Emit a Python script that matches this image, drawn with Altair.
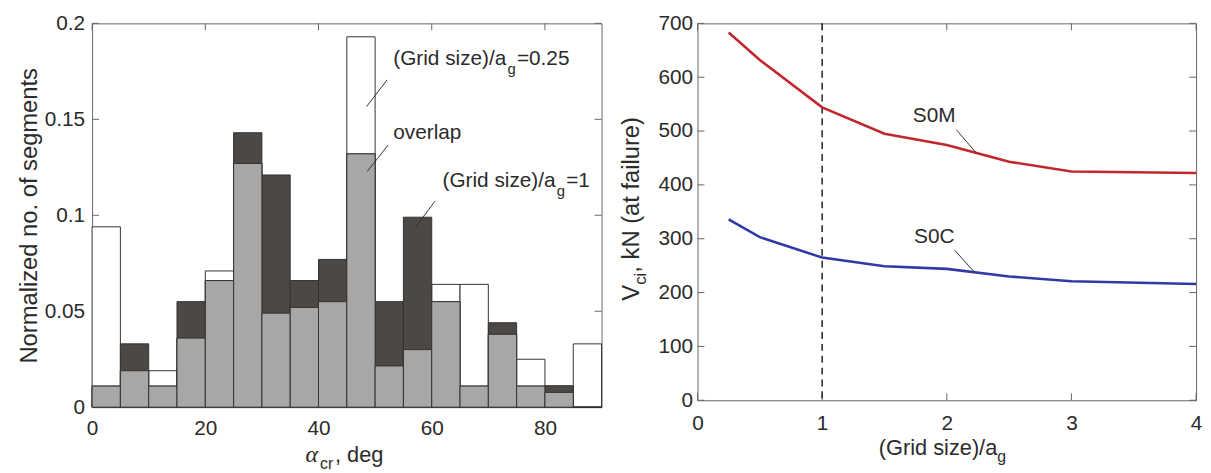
import altair as alt
import pandas as pd

# ---------------- Left panel: histogram of crack angles ----------------
BIN_START = [0, 5, 10, 15, 20, 25, 30, 35, 40, 45, 50, 55, 60, 65, 70, 75, 80, 85]
BIN_WIDTH = 5
FRAC_GRID_025 = [0.094, 0.019, 0.019, 0.036, 0.071, 0.127, 0.049, 0.052, 0.055,
                 0.193, 0.0215, 0.030, 0.064, 0.064, 0.038, 0.025, 0.0077, 0.033]
FRAC_GRID_1 = [0.011, 0.033, 0.011, 0.055, 0.066, 0.143, 0.121, 0.066, 0.077,
               0.132, 0.055, 0.099, 0.055, 0.011, 0.044, 0.011, 0.0112, 0.0]
LEFT_XTICKS = [0, 20, 40, 60, 80]
LEFT_YTICKS = [0, 0.05, 0.1, 0.15, 0.2]

# annotation anchors (data coords) and leader lines
ANN_L_TEXT = ["(Grid size)/a", "g", "=0.25", "overlap", "(Grid size)/a", "g", "=1"]
ANN_L_X = [53.2, 53.2, 61.9]
ANN_L_Y = [0.1814, 0.1426, 0.1177]
LEAD_L_X1 = [52.1, 52.3, 60.6]
LEAD_L_Y1 = [0.1705, 0.1366, 0.1074]
LEAD_L_X2 = [48.5, 48.6, 57.1]
LEAD_L_Y2 = [0.1567, 0.1228, 0.0937]

# ---------------- Right panel: V_ci vs grid size ----------------
GRID_RATIO = [0.25, 0.5, 1, 1.5, 2, 2.5, 3, 4]
V_S0M = [683, 632, 544, 495, 474, 443, 425, 422]
V_S0C = [336, 303, 265, 249, 244, 230, 221, 216]
RIGHT_XTICKS = [0, 1, 2, 3, 4]
RIGHT_YTICKS = [0, 100, 200, 300, 400, 500, 600, 700]
DASHED_AT = [1]
SERIES_NAMES = ["S0M", "S0C"]
ANN_R_X = [1.899, 1.90]
ANN_R_Y = [527, 303.4]
LEAD_R_X1 = [2.076, 2.063]
LEAD_R_Y1 = [502.6, 278.8]
LEAD_R_X2 = [2.235, 2.222]
LEAD_R_Y2 = [459.7, 237.8]

# titles (pieces for sub/subscripts)
LEFT_YTITLE = "Normalized no. of segments"
LEFT_XTITLE = ["α", "cr", ", deg"]
RIGHT_XTITLE = ["(Grid size)/a", "g"]
RIGHT_YTITLE = ["V", "ci", ", kN (at failure)"]

FONT = "Liberation Sans"
TXT = "#2b2b2b"
FRAME = "#666666"
C_WHITE = "#ffffff"
C_DARK = "#4b4846"
C_GRAY = "#a9a7a5"
C_EDGE = "#333333"
C_RED = "#c1272d"
C_BLUE = "#2e3aa6"

LW, LH = 515, 388
RW, RH = 504, 381
TICK = 7

# ---------- left panel ----------
hist = pd.DataFrame({
    "start": BIN_START,
    "end": [s + BIN_WIDTH for s in BIN_START],
    "g025": FRAC_GRID_025,
    "g1": FRAC_GRID_1,
})
hist["overlap"] = hist[["g025", "g1"]].min(axis=1)

lx_scale = alt.Scale(domain=[0, 90], nice=False, zero=False)
ly_scale = alt.Scale(domain=[0, 0.2], nice=False)

lx_axis = alt.Axis(values=LEFT_XTICKS, title=None, labelPadding=11, labelFlush=False)
ly_axis = alt.Axis(values=LEFT_YTICKS, format="~g", title=LEFT_YTITLE, titlePadding=3,
                   titleFontSize=24, labelPadding=7.5, labelFlush=False)


def LX(field):
    return alt.X(field, scale=lx_scale, axis=lx_axis)


def LY(field):
    return alt.Y(field, scale=ly_scale, axis=ly_axis)


def lbar(col, color):
    return alt.Chart(hist).mark_rect(fill=color, stroke=C_EDGE, strokeWidth=1).encode(
        x=LX("start:Q"), x2="end:Q", y=LY(f"{col}:Q"), y2=alt.datum(0),
    )


lyt = pd.DataFrame({"v": LEFT_YTICKS})
lxt = pd.DataFrame({"v": LEFT_XTICKS})
lticks = [
    alt.Chart(lyt).mark_rule(color=FRAME).encode(y=LY("v:Q"), x=alt.value(0), x2=alt.value(TICK)),
    alt.Chart(lyt).mark_rule(color=FRAME).encode(y=LY("v:Q"), x=alt.value(LW - TICK), x2=alt.value(LW)),
    alt.Chart(lxt).mark_rule(color=FRAME).encode(x=LX("v:Q"), y=alt.value(0), y2=alt.value(TICK)),
    alt.Chart(lxt).mark_rule(color=FRAME).encode(x=LX("v:Q"), y=alt.value(LH - TICK), y2=alt.value(LH)),
]

lead_l = pd.DataFrame({"x1": LEAD_L_X1, "y1": LEAD_L_Y1, "x2": LEAD_L_X2, "y2": LEAD_L_Y2})
lead_l_layer = alt.Chart(lead_l).mark_rule(color=C_EDGE, strokeWidth=1).encode(
    x=LX("x1:Q"), y=LY("y1:Q"), x2="x2:Q", y2="y2:Q")


def ann(text, xv, yv, X, Y, size=21, dx=0, dy=0, align="left", baseline="middle"):
    d = pd.DataFrame({"x": [xv], "y": [yv], "t": [text]})
    return alt.Chart(d).mark_text(font=FONT, fontSize=size, color=TXT, align=align,
                                  baseline=baseline, dx=dx, dy=dy).encode(
        x=X("x:Q"), y=Y("y:Q"), text="t:N")


ann_l = [
    ann(ANN_L_TEXT[0], ANN_L_X[0], ANN_L_Y[0], LX, LY),
    ann(ANN_L_TEXT[1], ANN_L_X[0], ANN_L_Y[0], LX, LY, size=15, dx=115.5, dy=10),
    ann(ANN_L_TEXT[2], ANN_L_X[0], ANN_L_Y[0], LX, LY, dx=125),
    ann(ANN_L_TEXT[3], ANN_L_X[1], ANN_L_Y[1], LX, LY),
    ann(ANN_L_TEXT[4], ANN_L_X[2], ANN_L_Y[2], LX, LY),
    ann(ANN_L_TEXT[5], ANN_L_X[2], ANN_L_Y[2], LX, LY, size=15, dx=115.5, dy=10),
    ann(ANN_L_TEXT[6], ANN_L_X[2], ANN_L_Y[2], LX, LY, dx=125),
]


def ptext(text, x, y, size, angle=0, font=FONT, style="normal"):
    d = pd.DataFrame({"t": [text]})
    return alt.Chart(d).mark_text(font=font, fontSize=size, fontStyle=style, color=TXT,
                                  align="left", baseline="alphabetic", angle=angle).encode(
        x=alt.value(x), y=alt.value(y), text="t:N")


ltitle = [
    ptext(LEFT_XTITLE[0], 215.8, 443.5, 24, font="Liberation Serif", style="italic"),
    ptext(LEFT_XTITLE[1], 230.5, 450.0, 16),
    ptext(LEFT_XTITLE[2], 245.5, 443.5, 22),
]

left = alt.layer(
    *lticks,
    lbar("g025", C_WHITE),
    lbar("g1", C_DARK),
    lbar("overlap", C_GRAY),
    lead_l_layer,
    *ann_l,
    *ltitle,
).properties(width=LW, height=LH)

# ---------- right panel ----------
rx_scale = alt.Scale(domain=[0, 4], nice=False, zero=False)
ry_scale = alt.Scale(domain=[0, 700], nice=False)
rx_axis = alt.Axis(values=RIGHT_XTICKS, title=None, labelPadding=13, labelFlush=False)
ry_axis = alt.Axis(values=RIGHT_YTICKS, title=None, labelPadding=5, labelFlush=False)


def RX(field):
    return alt.X(field, scale=rx_scale, axis=rx_axis)


def RY(field):
    return alt.Y(field, scale=ry_scale, axis=ry_axis)


lines = pd.DataFrame({
    "ratio": GRID_RATIO * 2,
    "V": V_S0M + V_S0C,
    "series": [SERIES_NAMES[0]] * len(GRID_RATIO) + [SERIES_NAMES[1]] * len(GRID_RATIO),
})

line_layer = alt.Chart(lines).mark_line(strokeWidth=2.6).encode(
    x=RX("ratio:Q"), y=RY("V:Q"),
    color=alt.Color("series:N", scale=alt.Scale(domain=SERIES_NAMES, range=[C_RED, C_BLUE]), legend=None),
)

dash_layer = alt.Chart(pd.DataFrame({"x": DASHED_AT})).mark_rule(
    color="#222222", strokeWidth=1.5, strokeDash=[7, 5]).encode(x=RX("x:Q"))

ryt = pd.DataFrame({"v": RIGHT_YTICKS})
rxt = pd.DataFrame({"v": RIGHT_XTICKS})
rticks = [
    alt.Chart(ryt).mark_rule(color=FRAME).encode(y=RY("v:Q"), x=alt.value(0), x2=alt.value(TICK)),
    alt.Chart(ryt).mark_rule(color=FRAME).encode(y=RY("v:Q"), x=alt.value(RW - TICK), x2=alt.value(RW)),
    alt.Chart(rxt).mark_rule(color=FRAME).encode(x=RX("v:Q"), y=alt.value(0), y2=alt.value(TICK)),
    alt.Chart(rxt).mark_rule(color=FRAME).encode(x=RX("v:Q"), y=alt.value(RH - TICK), y2=alt.value(RH)),
]

lead_r = pd.DataFrame({"x1": LEAD_R_X1, "y1": LEAD_R_Y1, "x2": LEAD_R_X2, "y2": LEAD_R_Y2})
lead_r_layer = alt.Chart(lead_r).mark_rule(color=C_EDGE, strokeWidth=1).encode(
    x=RX("x1:Q"), y=RY("y1:Q"), x2="x2:Q", y2="y2:Q")

ann_r = [
    ann(SERIES_NAMES[0], ANN_R_X[0], ANN_R_Y[0], RX, RY, align="center"),
    ann(SERIES_NAMES[1], ANN_R_X[1], ANN_R_Y[1], RX, RY, align="center"),
]

rtitle = [
    ptext(RIGHT_XTITLE[0], 183.3, 436.6, 22),
    ptext(RIGHT_XTITLE[1], 303.1, 443.6, 16),
    ptext(RIGHT_YTITLE[0], -58.7, 280.3, 24, angle=270),
    ptext(RIGHT_YTITLE[1], -51.7, 264.3, 17, angle=270),
    ptext(RIGHT_YTITLE[2], -58.7, 252.0, 24, angle=270),
]

right = alt.layer(
    *rticks,
    dash_layer,
    line_layer,
    lead_r_layer,
    *ann_r,
    *rtitle,
).properties(width=RW, height=RH)

chart = alt.hconcat(left, right, spacing=17).properties(
    padding={"left": 9, "top": 1, "right": 0, "bottom": 0},
    background="white",
).configure_view(
    stroke=FRAME, strokeWidth=1
).configure_axis(
    domain=False, grid=False, ticks=False, tickSize=0,
    labelFont=FONT, labelFontSize=21, labelColor=TXT,
    titleFont=FONT, titleColor=TXT, titleFontWeight="normal",
)

chart.save("out.html", embed_options={"renderer": "svg", "actions": False})
